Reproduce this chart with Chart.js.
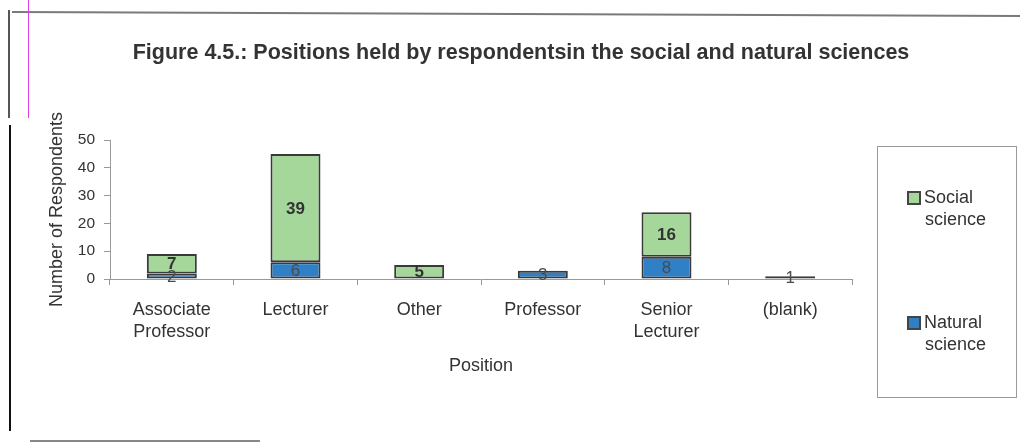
<!DOCTYPE html>
<html>
<head>
<meta charset="utf-8">
<script src="https://cdn.jsdelivr.net/npm/chart.js@4/dist/chart.umd.min.js"></script>
<style>
  html, body { margin: 0; padding: 0; background: #fff; }
  #wrap { position: relative; width: 1020px; height: 448px; overflow: hidden; }
  #wrap canvas { position: absolute; left: 0; top: 0; }
  .edge { position: absolute; }
</style>
</head>
<body>
<div id="wrap">
  <canvas id="positionsChart" width="1020" height="448"></canvas>
  <!-- page edges around the figure -->
  <div class="edge" style="left:12px;top:11px;width:1010px;height:2px;background:#7a7a7a;transform:rotate(0.23deg);transform-origin:0 0;"></div>
  <div class="edge" style="left:8px;top:10px;width:2px;height:108px;background:#555;"></div>
  <div class="edge" style="left:28px;top:0;width:1px;height:118px;background:#e040e0;"></div>
  <div class="edge" style="left:9px;top:125px;width:2px;height:306px;background:#111;"></div>
  <div class="edge" style="left:30px;top:440px;width:230px;height:2px;background:#888;"></div>
</div>
<script>
const positions = [["Associate", "Professor"], "Lecturer", "Other", "Professor", ["Senior", "Lecturer"], "(blank)"];
const naturalScience = [2, 6, 0, 3, 8, 1];
const socialScience = [7, 39, 5, 0, 16, 0];
const yTicks = [0, 10, 20, 30, 40, 50];

const FONT = "'Liberation Sans', Arial, Helvetica, sans-serif";
const INK = "#333";

// numbers printed in the middle of each stacked segment
const segmentLabels = {
  id: "segmentLabels",
  afterDatasetsDraw(chart) {
    const ctx = chart.ctx;
    chart.data.datasets.forEach((ds, i) => {
      const meta = chart.getDatasetMeta(i);
      meta.data.forEach((bar, j) => {
        const v = ds.data[j];
        if (!v) return;
        ctx.save();
        ctx.font = ds.labelFont;
        ctx.fillStyle = ds.labelColor;
        ctx.textAlign = "center";
        ctx.textBaseline = "middle";
        ctx.fillText(String(v), bar.x, (bar.y + bar.base) / 2 + 1);
        ctx.restore();
      });
    });
  }
};

// figure caption above the plot
const caption = {
  id: "caption",
  afterDraw(chart, args, opts) {
    const ctx = chart.ctx;
    ctx.save();
    ctx.font = opts.font;
    ctx.fillStyle = INK;
    ctx.textAlign = "center";
    ctx.textBaseline = "middle";
    ctx.fillText(opts.text, opts.x, opts.y);
    ctx.restore();
  }
};

// boxed legend on the right, one entry per series with wrapped text
const boxLegend = {
  id: "boxLegend",
  afterDraw(chart, args, opts) {
    const ctx = chart.ctx;
    const b = opts.box;
    ctx.save();
    ctx.strokeStyle = "#9a9a9a";
    ctx.lineWidth = 1;
    ctx.strokeRect(b.x + 0.5, b.y + 0.5, b.w, b.h);
    const items = chart.data.datasets.slice().reverse();
    items.forEach((ds, k) => {
      const top = opts.firstY + k * opts.gap;
      ctx.fillStyle = ds.backgroundColor;
      ctx.strokeStyle = "#444";
      ctx.lineWidth = 2;
      ctx.fillRect(opts.markX, top - 6, 12, 12);
      ctx.strokeRect(opts.markX, top - 6, 12, 12);
      ctx.fillStyle = INK;
      ctx.font = "18px " + FONT;
      ctx.textAlign = "left";
      ctx.textBaseline = "middle";
      const lines = ds.label.split(" ");
      ctx.fillText(lines[0], opts.markX + 16, top);
      ctx.fillText(lines[1], opts.markX + 17, top + 22);
    });
    ctx.restore();
  }
};

new Chart(document.getElementById("positionsChart"), {
  type: "bar",
  data: {
    labels: positions,
    datasets: [
      {
        label: "Natural science",
        data: naturalScience,
        backgroundColor: "#2f80c6",
        borderColor: "#3a3a3a",
        borderWidth: 2,
        borderSkipped: false,
        labelFont: "17px " + FONT,
        labelColor: "#4a4a4a"
      },
      {
        label: "Social science",
        data: socialScience,
        backgroundColor: "#a5d79b",
        borderColor: "#3a3a3a",
        borderWidth: 2,
        borderSkipped: false,
        labelFont: "bold 17px " + FONT,
        labelColor: "#333"
      }
    ]
  },
  options: {
    responsive: false,
    animation: false,
    layout: { padding: { top: 140, right: 168, bottom: 0, left: 0 } },
    datasets: { bar: { barPercentage: 0.404, categoryPercentage: 1 } },
    plugins: {
      legend: { display: false },
      tooltip: { enabled: false },
      caption: {
        text: "Figure 4.5.: Positions held by respondentsin the social and natural sciences",
        font: "bold 21.5px " + FONT,
        x: 521,
        y: 53
      },
      boxLegend: {
        box: { x: 877, y: 146, w: 139, h: 251 },
        markX: 908,
        firstY: 198,
        gap: 125
      }
    },
    scales: {
      x: {
        stacked: true,
        afterFit(scale) { scale.height = 169; },
        border: { display: true, color: "#999", width: 1 },
        grid: { drawOnChartArea: false, drawTicks: true, tickLength: 6, color: "#999", offset: true },
        ticks: {
          color: INK,
          padding: 14,
          maxRotation: 0,
          font: { family: FONT, size: 18, lineHeight: 1.22 }
        },
        title: {
          display: true,
          text: "Position",
          color: INK,
          font: { family: FONT, size: 18 },
          padding: { top: 0, bottom: 71 }
        }
      },
      y: {
        stacked: true,
        min: 0,
        max: 50,
        afterFit(scale) { scale.width = 110; },
        afterBuildTicks(scale) { scale.ticks = yTicks.map(v => ({ value: v })); },
        border: { display: true, color: "#999", width: 1 },
        grid: { drawOnChartArea: false, drawTicks: true, tickLength: 6, color: "#999" },
        ticks: {
          color: INK,
          padding: 9,
          font: { family: FONT, size: 15.5 }
        },
        title: {
          display: true,
          text: "Number of Respondents",
          color: INK,
          font: { family: FONT, size: 18 },
          padding: { top: 46, bottom: 0 }
        }
      }
    }
  },
  plugins: [segmentLabels, caption, boxLegend]
});
</script>
</body>
</html>
